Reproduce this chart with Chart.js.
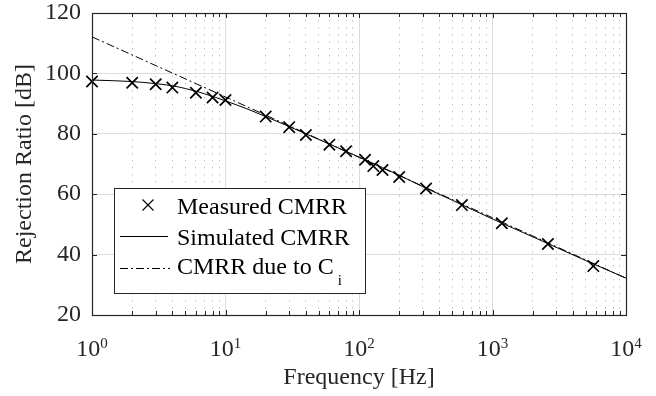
<!DOCTYPE html>
<html lang="en">
<head>
    <meta charset="UTF-8">
    <title>CMRR vs Frequency</title>
    <script src="https://cdn.jsdelivr.net/npm/chart.js"></script>
    <style>
        html, body { margin: 0; padding: 0; background: #fff; }
        #wrap { width: 656px; height: 396px; }
    </style>
</head>
<body>
    <div id="wrap"><canvas id="cmrrChart"></canvas></div>

    <script>
        // values
        const measuredFreq = [1, 2, 3, 4, 6, 8, 10, 20, 30, 40, 60, 80, 111, 128, 150, 200, 318, 590, 1175, 2600, 5690];
        const measuredDb = [97.3, 96.9, 96.4, 95.3, 93.6, 92.0, 91.2, 85.7, 82.2, 79.6, 76.4, 74.2, 71.4, 69.3, 68.0, 65.7, 61.9, 56.4, 50.4, 43.5, 36.2];

        const simFreq = [1, 2, 3, 4, 5, 6, 8, 10, 15, 20, 30, 40, 60, 80, 100, 150, 200, 300, 500, 1000, 2000, 5000, 10000];
        const simDb = [97.8, 97.3, 96.6, 95.9, 95.0, 94.1, 92.4, 90.9, 88.0, 85.7, 82.4, 80.0, 76.6, 74.2, 72.3, 68.8, 66.3, 62.5, 58.0, 51.8, 45.9, 38.0, 32.2];

        const ciFreq = [1, 10, 100, 1000, 10000];
        const ciDb = [112.1, 92.2, 72.2, 52.2, 32.2];

        const yTicks = [20, 40, 60, 80, 100, 120];
        const xDecades = [1, 10, 100, 1000, 10000];
        const legendLabels = ['Measured CMRR', 'Simulated CMRR', 'CMRR due to C'];

        const FONT = '"Liberation Serif", "Times New Roman", serif';
        const AXIS = '#262626';

        function isMajor(v) {
            const l = Math.log10(v);
            return Math.abs(l - Math.round(l)) < 1e-9;
        }

        const pairs = (xs, ys) => xs.map((x, i) => ({ x: x, y: ys[i] }));

        const framePlugin = {
            id: 'frame',
            afterDraw(chart) {
                const { ctx, chartArea: a, scales: { x, y } } = chart;
                ctx.save();

                // legend box
                const lx = 114, ly = 188, lw = 251, lh = 105;
                ctx.fillStyle = '#fff';
                ctx.fillRect(lx, ly, lw, lh);
                ctx.strokeStyle = AXIS;
                ctx.lineWidth = 1;
                ctx.strokeRect(lx + 0.5, ly + 0.5, lw, lh);

                ctx.strokeStyle = '#000';
                ctx.lineWidth = 1.1;
                ctx.beginPath();
                const mx = 148, my = 205, mr = 5.5;
                ctx.moveTo(mx - mr, my - mr); ctx.lineTo(mx + mr, my + mr);
                ctx.moveTo(mx + mr, my - mr); ctx.lineTo(mx - mr, my + mr);
                ctx.stroke();

                ctx.lineWidth = 1;
                ctx.beginPath();
                ctx.moveTo(120, 236.5); ctx.lineTo(168, 236.5);
                ctx.stroke();
                ctx.setLineDash([8, 3, 2, 3]);
                ctx.beginPath();
                ctx.moveTo(120, 268.5); ctx.lineTo(170, 268.5);
                ctx.stroke();
                ctx.setLineDash([]);

                ctx.fillStyle = '#000';
                ctx.font = '24px ' + FONT;
                ctx.textBaseline = 'alphabetic';
                ctx.textAlign = 'left';
                ctx.fillText(legendLabels[0], 177, 214);
                ctx.fillText(legendLabels[1], 177, 245);
                ctx.fillText(legendLabels[2], 177, 274);
                const cw = ctx.measureText(legendLabels[2]).width;
                ctx.font = '15px ' + FONT;
                ctx.fillText('i', 177 + cw + 4, 285);

                // inward tick marks
                ctx.strokeStyle = AXIS;
                ctx.lineWidth = 1;
                ctx.beginPath();
                x.ticks.forEach(t => {
                    const px = Math.round(x.getPixelForValue(t.value)) + 0.5;
                    const len = isMajor(t.value) ? 5 : 4;
                    ctx.moveTo(px, a.bottom); ctx.lineTo(px, a.bottom - len);
                    ctx.moveTo(px, a.top); ctx.lineTo(px, a.top + len);
                });
                y.ticks.forEach(t => {
                    const py = Math.round(y.getPixelForValue(t.value)) + 0.5;
                    ctx.moveTo(a.left, py); ctx.lineTo(a.left + 5, py);
                    ctx.moveTo(a.right, py); ctx.lineTo(a.right - 5, py);
                });
                ctx.stroke();

                // axes box
                ctx.lineWidth = 1.2;
                ctx.strokeRect(Math.round(a.left) + 0.5, Math.round(a.top) + 0.5,
                    Math.round(a.right - a.left), Math.round(a.bottom - a.top));

                // x tick labels 10^n
                ctx.fillStyle = AXIS;
                xDecades.forEach(d => {
                    const px = x.getPixelForValue(d);
                    const exp = String(Math.round(Math.log10(d)));
                    ctx.font = '24px ' + FONT;
                    const w1 = ctx.measureText('10').width;
                    ctx.font = '15px ' + FONT;
                    const w2 = ctx.measureText(exp).width;
                    const start = px - (w1 + w2) / 2;
                    ctx.font = '24px ' + FONT;
                    ctx.fillText('10', start, 356);
                    ctx.font = '15px ' + FONT;
                    ctx.fillText(exp, start + w1, 348);
                });

                ctx.restore();
            }
        };

        const ctx = document.getElementById('cmrrChart').getContext('2d');
        const cmrrChart = new Chart(ctx, {
            type: 'line',
            data: {
                datasets: [
                    {
                        label: legendLabels[0],
                        data: pairs(measuredFreq, measuredDb),
                        showLine: false,
                        pointStyle: 'crossRot',
                        pointRadius: 8,
                        pointBorderWidth: 1.7,
                        borderColor: '#000',
                        backgroundColor: '#000',
                        clip: false
                    },
                    {
                        label: legendLabels[1],
                        data: pairs(simFreq, simDb),
                        borderColor: '#000',
                        borderWidth: 1,
                        pointRadius: 0,
                        cubicInterpolationMode: 'monotone'
                    },
                    {
                        label: legendLabels[2] + 'i',
                        data: pairs(ciFreq, ciDb),
                        borderColor: '#000',
                        borderWidth: 1,
                        borderDash: [8, 3, 2, 3],
                        pointRadius: 0
                    }
                ]
            },
            options: {
                responsive: true,
                maintainAspectRatio: false,
                animation: false,
                layout: { padding: { top: 13, right: 30, left: 0, bottom: 0 } },
                plugins: {
                    legend: { display: false },
                    tooltip: { enabled: false }
                },
                scales: {
                    x: {
                        type: 'logarithmic',
                        min: 1,
                        max: 10000,
                        afterBuildTicks: scale => {
                            const ticks = [];
                            xDecades.slice(0, -1).forEach(d => {
                                for (let m = 1; m < 10; m++) ticks.push({ value: m * d });
                            });
                            ticks.push({ value: xDecades[xDecades.length - 1] });
                            scale.ticks = ticks;
                        },
                        afterFit: scale => {
                            scale.height = 81;
                            scale.paddingLeft = 0;
                            scale.paddingRight = 0;
                        },
                        ticks: { display: false },
                        grid: {
                            drawTicks: false,
                            lineWidth: 1,
                            color: c => (c.tick && isMajor(c.tick.value)) ? '#dcdcdc' : '#c4c4c4'
                        },
                        border: {
                            display: false,
                            dash: c => (c.tick && !isMajor(c.tick.value)) ? [1.5, 5.5] : []
                        },
                        title: {
                            display: true,
                            text: 'Frequency [Hz]',
                            color: AXIS,
                            font: { family: FONT, size: 24 },
                            padding: { top: 0, bottom: 4 }
                        }
                    },
                    y: {
                        min: 20,
                        max: 120,
                        afterBuildTicks: scale => {
                            scale.ticks = yTicks.map(v => ({ value: v }));
                        },
                        afterFit: scale => {
                            scale.width = 92;
                            scale.paddingTop = 0;
                            scale.paddingBottom = 0;
                        },
                        ticks: {
                            color: AXIS,
                            padding: 11,
                            font: { family: FONT, size: 24, lineHeight: 1 }
                        },
                        grid: {
                            drawTicks: false,
                            color: '#dcdcdc',
                            lineWidth: 1
                        },
                        border: { display: false },
                        title: {
                            display: true,
                            text: 'Rejection Ratio [dB]',
                            color: AXIS,
                            font: { family: FONT, size: 24 },
                            padding: { top: 10, bottom: 0 }
                        }
                    }
                }
            },
            plugins: [framePlugin]
        });
    </script>
</body>
</html>
